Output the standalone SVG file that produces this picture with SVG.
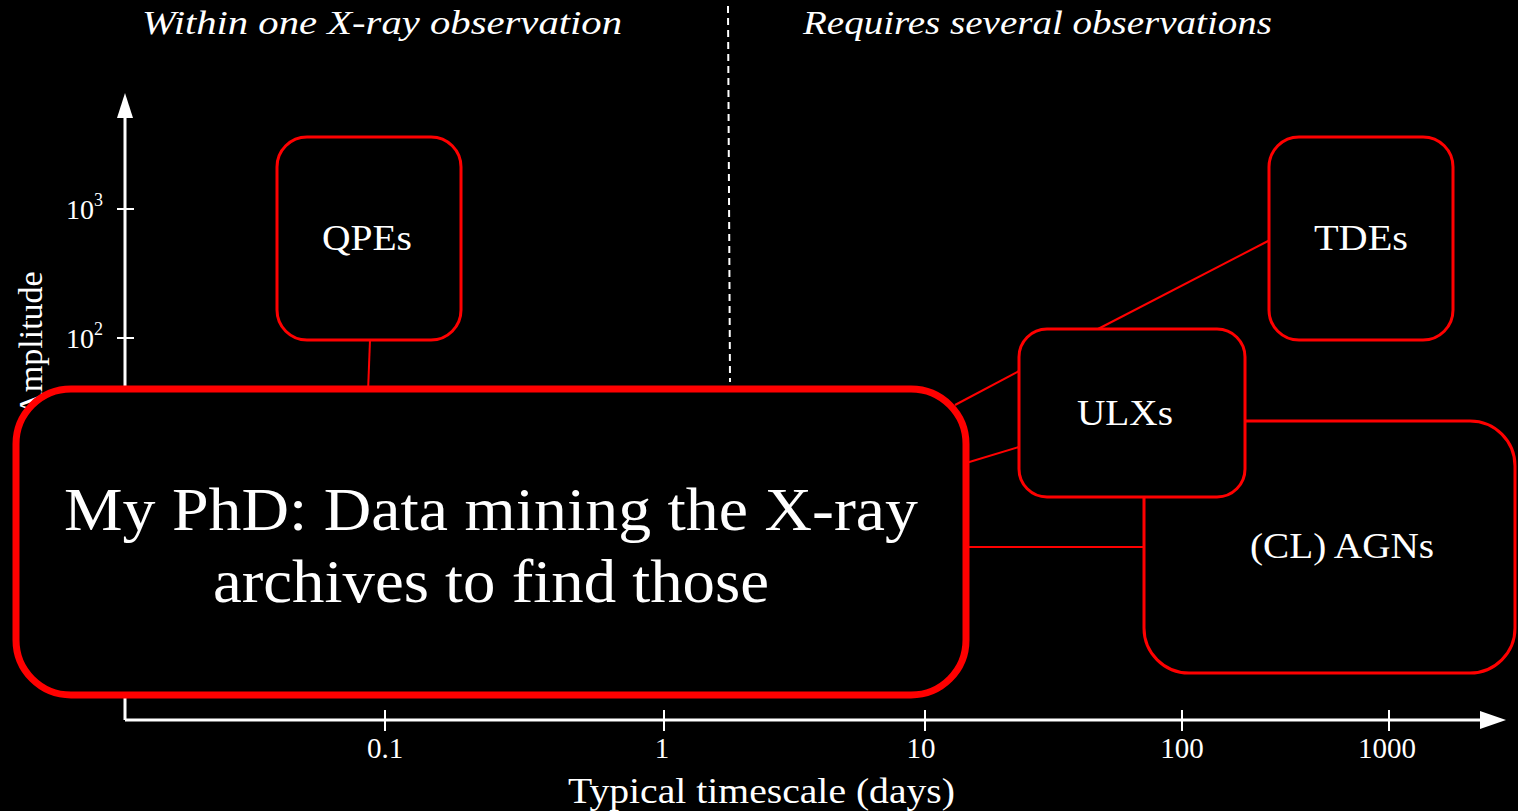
<svg xmlns="http://www.w3.org/2000/svg" width="1518" height="811" viewBox="0 0 1518 811">
<style>
text{font-family:"Liberation Serif","DejaVu Serif",serif;fill:#fff}
.box{fill:#000;stroke:#f00;stroke-width:3}
.lbl{font-size:35px;text-anchor:middle}
.tick{font-size:29px;text-anchor:middle}
.conn{stroke:#f00;stroke-width:2;fill:none}
.ax{stroke:#fff;stroke-width:3;fill:none}
</style>
<rect width="1518" height="811" fill="#000"/>
<g id="headers">
<text x="142" y="34" font-size="34" font-style="italic" textLength="480" lengthAdjust="spacingAndGlyphs">Within one X-ray observation</text>
<text x="803" y="34" font-size="34" font-style="italic" textLength="469" lengthAdjust="spacingAndGlyphs">Requires several observations</text>
<line x1="728" y1="6" x2="730" y2="382" stroke="#fff" stroke-width="2" stroke-dasharray="7,5"/>
</g>
<g id="axes">
<line class="ax" x1="125" y1="720" x2="125" y2="110"/>
<path d="M125,93 L117,118 L133,118 Z" fill="#fff"/>
<line class="ax" x1="125" y1="720" x2="1485" y2="720"/>
<path d="M1506,720 L1480,711 L1480,729 Z" fill="#fff"/>
<g stroke="#fff" stroke-width="2">
<line x1="117" y1="209" x2="134" y2="209"/>
<line x1="117" y1="338" x2="134" y2="338"/>
<line x1="385" y1="710" x2="385" y2="731"/>
<line x1="664" y1="710" x2="664" y2="731"/>
<line x1="925" y1="710" x2="925" y2="731"/>
<line x1="1182" y1="710" x2="1182" y2="731"/>
<line x1="1389" y1="710" x2="1389" y2="731"/>
</g>
<text x="66" y="219" font-size="28">10<tspan font-size="18" dy="-13">3</tspan></text>
<text x="66" y="348" font-size="28">10<tspan font-size="18" dy="-13">2</tspan></text>
<text class="tick" x="385" y="758">0.1</text>
<text class="tick" x="662" y="758">1</text>
<text class="tick" x="921" y="758">10</text>
<text class="tick" x="1182" y="758">100</text>
<text class="tick" x="1387" y="758">1000</text>
<text x="568" y="803" font-size="36" textLength="387" lengthAdjust="spacingAndGlyphs">Typical timescale (days)</text>
<text transform="translate(42,344) rotate(-90)" font-size="34" text-anchor="middle">Amplitude</text>
</g>
<g id="connectors">
<line class="conn" x1="370" y1="340" x2="368" y2="392"/>
<line class="conn" x1="955" y1="405" x2="1019" y2="371"/>
<line class="conn" x1="966" y1="463" x2="1019" y2="447"/>
<line class="conn" x1="966" y1="547" x2="1144" y2="547"/>
<line class="conn" x1="1098" y1="329" x2="1270" y2="240"/>
</g>
<g id="qpes"><rect class="box" x="277" y="137" width="184" height="203" rx="30"/><text class="lbl" x="367" y="250" textLength="90" lengthAdjust="spacingAndGlyphs">QPEs</text></g>
<g id="tdes"><rect class="box" x="1269" y="137" width="184" height="203" rx="30"/><text class="lbl" x="1361" y="250" textLength="94" lengthAdjust="spacingAndGlyphs">TDEs</text></g>
<g id="agns"><rect class="box" x="1144" y="421" width="371" height="252" rx="45"/><text class="lbl" x="1342" y="558" textLength="184" lengthAdjust="spacingAndGlyphs">(CL) AGNs</text></g>
<g id="ulxs"><rect class="box" x="1019" y="329" width="226" height="168" rx="28"/><text class="lbl" x="1125" y="425" textLength="96" lengthAdjust="spacingAndGlyphs">ULXs</text></g>
<g id="phd"><rect x="16" y="389" width="950" height="306" rx="55" fill="#000" stroke="#f00" stroke-width="7"/>
<text x="64" y="530" font-size="62" textLength="854" lengthAdjust="spacingAndGlyphs">My PhD: Data mining the X-ray</text>
<text x="213" y="602" font-size="62" textLength="556" lengthAdjust="spacingAndGlyphs">archives to find those</text></g>
</svg>
